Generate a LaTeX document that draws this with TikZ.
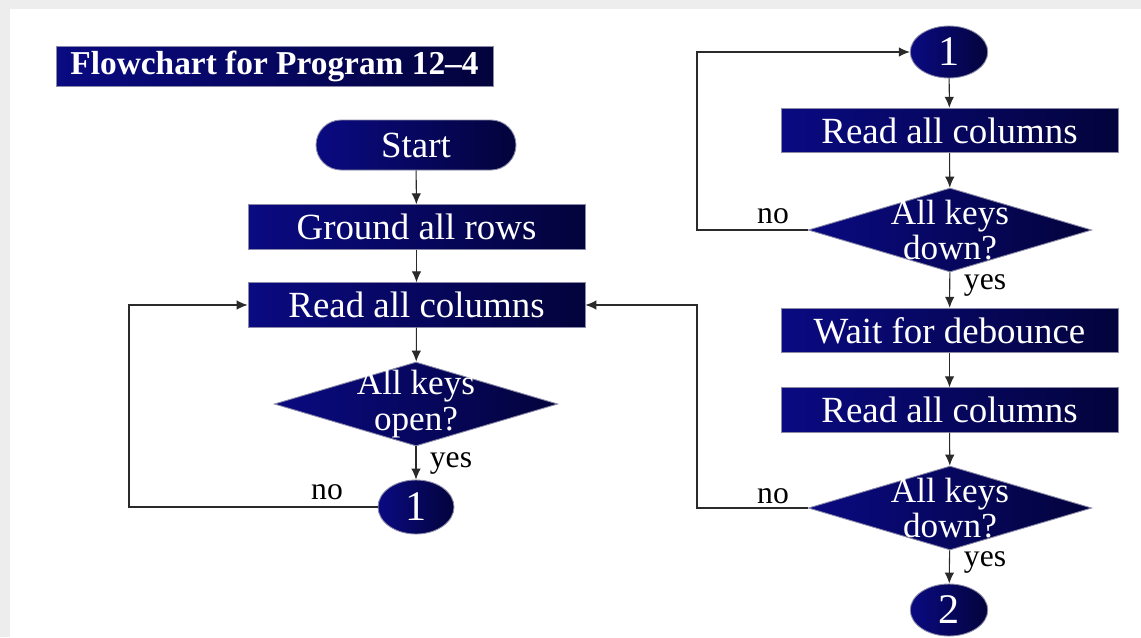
\documentclass[tikz,border=0pt]{standalone}
\usepackage{fontspec}
\setmainfont{Liberation Serif}
\usepackage{tikz}
\usetikzlibrary{arrows.meta,shapes.geometric}
\definecolor{NavyLight}{HTML}{0A0A82}
\definecolor{NavyDeep}{HTML}{03033C}
\definecolor{Edge}{HTML}{8A8AA8}
\definecolor{Wire}{HTML}{2A2A2A}
\definecolor{Frame}{HTML}{EDEDED}
\newcommand{\chartfont}{\fontsize{21}{21}\selectfont}
\newcommand{\askfont}{\fontsize{20}{20}\selectfont}
\newcommand{\notefont}{\fontsize{18}{18}\selectfont}

\begin{document}
\begin{tikzpicture}[x=0.02cm,y=-0.02cm,
    navy/.style={left color=NavyLight,right color=NavyDeep,draw=Edge,line width=0.5pt,text=white,font=\chartfont},
    procbox/.style={navy,rectangle,minimum width=6.74cm,minimum height=0.89cm,inner sep=0pt},
    termbox/.style={navy,rectangle,rounded corners=0.5cm,minimum width=4cm,minimum height=1cm},
    decbox/.style={navy,diamond,aspect=3.37,inner sep=-8pt,minimum width=5.67cm,minimum height=1.68cm,align=center,font=\askfont},
    joinbox/.style={navy,ellipse,inner sep=0pt,minimum width=1.55cm,minimum height=1.04cm,font=\fontsize{24}{24}\selectfont},
    note/.style={font=\notefont,text=black,inner sep=0pt},
    arr/.style={-{Latex[length=2.2mm,width=1.9mm]},Wire,line width=0.6pt}]
    \useasboundingbox[fill=Frame] (0,0) rectangle (1141,637);
    \fill[white] (10,9) rectangle (1141,637);

    \node[navy,rectangle,minimum width=8.74cm,minimum height=0.8cm,inner sep=0pt,font=\fontsize{19}{19}\selectfont\bfseries] (title) at (274.5,66) {Flowchart for Program 12--4};

    % left column
    \node[termbox] (start) at (416,145) {Start};
    \node[procbox] (ground) at (416.5,227) {Ground all rows};
    \node[procbox] (readL) at (416.5,305) {Read all columns};
    \node[decbox] (openQ) at (416,404) {All keys\\open?};
    \node[joinbox,minimum width=1.52cm,minimum height=1.08cm] (joinL) at (416,507) {1};

    \draw[arr] (start) -- (ground);
    \draw[arr] (ground) -- (readL);
    \draw[arr] (readL) -- (openQ);
    \draw[arr] (openQ) -- (joinL);
    \coordinate (loopL) at (129,507);
    \draw[arr] (joinL.west) -- (loopL) |- (readL.west);
    \node[note] (yesL) at (451,463) {yes};
    \node[note] (noL) at (327,492) {no};

    % right column
    \node[joinbox] (joinR) at (949,52) {1};
    \node[procbox] (readR) at (949.5,130.5) {Read all columns};
    \node[decbox] (downQ) at (950,230) {All keys\\down?};
    \node[procbox] (wait) at (949.5,330.5) {Wait for debounce};
    \node[procbox] (reread) at (949.5,410) {Read all columns};
    \node[decbox] (downQQ) at (950,508) {All keys\\down?};
    \node[joinbox] (exit) at (949,610) {2};

    \draw[arr] (joinR) -- (readR);
    \draw[arr] (readR) -- (downQ);
    \draw[arr] (downQ) -- (wait);
    \draw[arr] (wait) -- (reread);
    \draw[arr] (reread) -- (downQQ);
    \draw[arr] (downQQ) -- (exit);
    \coordinate (loopR) at (697,230);
    \coordinate (loopRR) at (697,508);
    \draw[arr] (downQ.west) -- (loopR) |- (joinR.west);
    \draw[arr] (downQQ.west) -- (loopRR) |- (readL.east);
    \node[note] (noR) at (773,216) {no};
    \node[note] (noRR) at (773,496) {no};
    \node[note] (yesR) at (985,285) {yes};
    \node[note] (yesRR) at (985,562) {yes};
\end{tikzpicture}
\end{document}
